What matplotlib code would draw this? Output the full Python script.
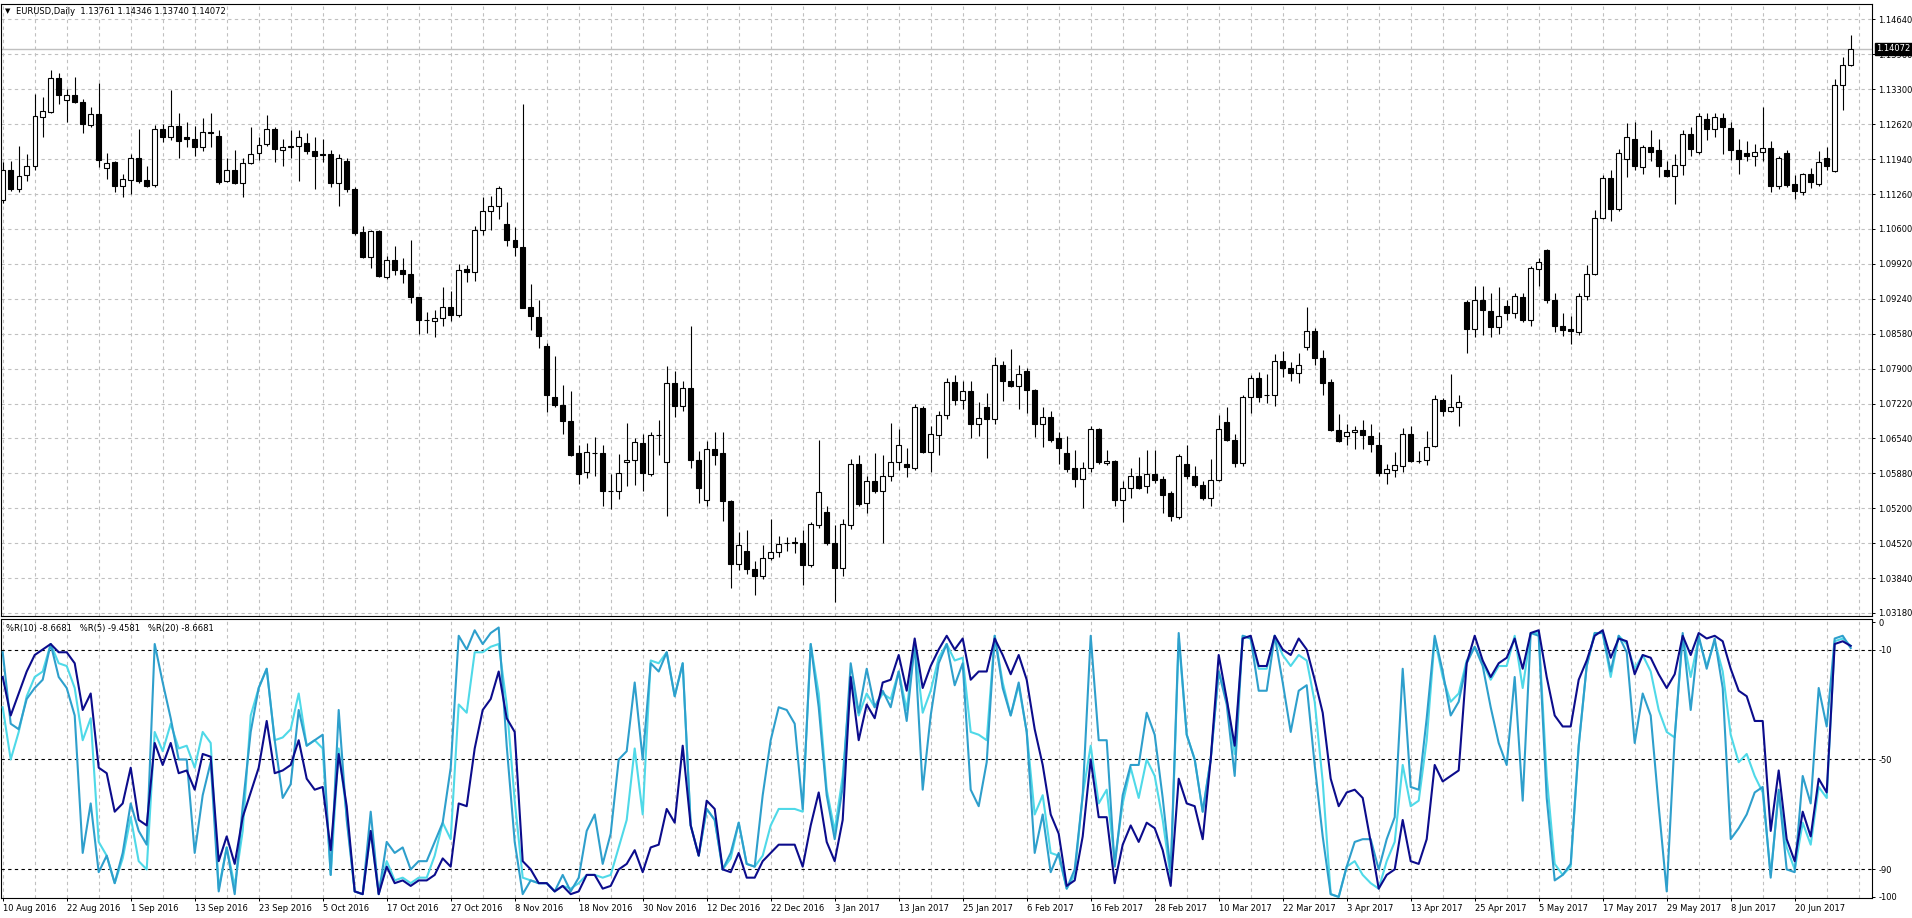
import numpy as np
import matplotlib.pyplot as plt

# EURUSD daily candles, 10 Aug 2016 .. end of Jun 2017
opens = [
    1.1115, 1.1174, 1.1136, 1.1164, 1.1181, 1.1275, 1.1286, 1.1351, 1.1308, 1.1319,
    1.1304, 1.1260, 1.1282, 1.1177, 1.1189, 1.1142, 1.1155, 1.1196, 1.1155, 1.1144,
    1.1253, 1.1237, 1.1259, 1.1237, 1.1234, 1.1218, 1.1246, 1.1240, 1.1152, 1.1174,
    1.1148, 1.1187, 1.1207, 1.1223, 1.1253, 1.1212, 1.1218, 1.1220, 1.1225, 1.1210,
    1.1204, 1.1204, 1.1148, 1.1191, 1.1137, 1.1053, 1.1006, 1.1055, 1.0967, 1.0999,
    1.0980, 1.0973, 1.0928, 1.0883, 1.0881, 1.0888, 1.0908, 1.0893, 1.0982, 1.0976,
    1.1057, 1.1094, 1.1104, 1.1070, 1.1039, 1.1025, 1.0908, 1.0889, 1.0834, 1.0736,
    1.0719, 1.0688, 1.0627, 1.0591, 1.0626, 1.0627, 1.0553, 1.0553, 1.0610, 1.0613,
    1.0647, 1.0587, 1.0662, 1.0610, 1.0762, 1.0717, 1.0752, 1.0614, 1.0536, 1.0635,
    1.0626, 1.0534, 1.0413, 1.0438, 1.0403, 1.0389, 1.0424, 1.0436, 1.0453, 1.0454,
    1.0454, 1.0411, 1.0487, 1.0513, 1.0454, 1.0405, 1.0487, 1.0606, 1.0531, 1.0573,
    1.0553, 1.0582, 1.0610, 1.0606, 1.0598, 1.0713, 1.0629, 1.0662, 1.0700, 1.0764,
    1.0729, 1.0747, 1.0683, 1.0715, 1.0692, 1.0797, 1.0766, 1.0756, 1.0785, 1.0748,
    1.0682, 1.0696, 1.0655, 1.0627, 1.0598, 1.0577, 1.0598, 1.0673, 1.0608, 1.0612,
    1.0536, 1.0559, 1.0582, 1.0563, 1.0586, 1.0576, 1.0549, 1.0503, 1.0606, 1.0582,
    1.0565, 1.0540, 1.0575, 1.0686, 1.0653, 1.0608, 1.0736, 1.0772, 1.0738, 1.0738,
    1.0805, 1.0791, 1.0781, 1.0832, 1.0862, 1.0811, 1.0765, 1.0672, 1.0660, 1.0668,
    1.0672, 1.0660, 1.0643, 1.0588, 1.0594, 1.0602, 1.0664, 1.0612, 1.0614, 1.0641,
    1.0729, 1.0709, 1.0715, 1.0918, 1.0867, 1.0922, 1.0902, 1.0870, 1.0910, 1.0898,
    1.0929, 1.0884, 1.0982, 1.1018, 1.0922, 1.0873, 1.0867, 1.0861, 1.0930, 1.0973,
    1.1081, 1.1158, 1.1099, 1.1195, 1.1234, 1.1179, 1.1218, 1.1212, 1.1173, 1.1162,
    1.1183, 1.1242, 1.1209, 1.1271, 1.1253, 1.1274, 1.1255, 1.1212, 1.1207, 1.1201,
    1.1208, 1.1216, 1.1142, 1.1207, 1.1146, 1.1130, 1.1166, 1.1146, 1.1196, 1.1171,
    1.1337, 1.13761,
]
highs = [
    1.1189, 1.1191, 1.1220, 1.1204, 1.1320, 1.1314, 1.1367, 1.1360, 1.1329, 1.1353,
    1.1311, 1.1296, 1.1341, 1.1207, 1.1191, 1.1166, 1.1204, 1.1252, 1.1181, 1.1261,
    1.1263, 1.1327, 1.1283, 1.1267, 1.1259, 1.1273, 1.1283, 1.1251, 1.1196, 1.1212,
    1.1196, 1.1256, 1.1238, 1.1279, 1.1257, 1.1234, 1.1251, 1.1251, 1.1244, 1.1238,
    1.1234, 1.1212, 1.1205, 1.1197, 1.1140, 1.1066, 1.1058, 1.1058, 1.1008, 1.1026,
    1.1004, 1.1039, 1.0928, 1.0900, 1.0903, 1.0947, 1.0940, 1.0992, 1.0990, 1.1066,
    1.1122, 1.1123, 1.1142, 1.1111, 1.1064, 1.1300, 1.0953, 1.0922, 1.0840, 1.0815,
    1.0758, 1.0746, 1.0643, 1.0647, 1.0657, 1.0643, 1.0586, 1.0625, 1.0684, 1.0655,
    1.0664, 1.0668, 1.0690, 1.0795, 1.0785, 1.0766, 1.0873, 1.0631, 1.0651, 1.0668,
    1.0668, 1.0536, 1.0475, 1.0479, 1.0419, 1.0450, 1.0499, 1.0467, 1.0465, 1.0465,
    1.0479, 1.0493, 1.0653, 1.0524, 1.0487, 1.0499, 1.0616, 1.0623, 1.0582, 1.0627,
    1.0623, 1.0684, 1.0673, 1.0637, 1.0721, 1.0717, 1.0680, 1.0709, 1.0772, 1.0777,
    1.0766, 1.0766, 1.0725, 1.0742, 1.0813, 1.0805, 1.0828, 1.0797, 1.0791, 1.0750,
    1.0715, 1.0709, 1.0668, 1.0660, 1.0632, 1.0610, 1.0680, 1.0676, 1.0632, 1.0614,
    1.0573, 1.0598, 1.0619, 1.0632, 1.0632, 1.0583, 1.0553, 1.0625, 1.0643, 1.0602,
    1.0573, 1.0616, 1.0701, 1.0715, 1.0664, 1.0739, 1.0777, 1.0783, 1.0779, 1.0818,
    1.0824, 1.0803, 1.0820, 1.0908, 1.0869, 1.0826, 1.0770, 1.0703, 1.0682, 1.0680,
    1.0690, 1.0682, 1.0668, 1.0606, 1.0629, 1.0676, 1.0680, 1.0631, 1.0669, 1.0738,
    1.0733, 1.0779, 1.0738, 1.0922, 1.0949, 1.0949, 1.0935, 1.0947, 1.0922, 1.0935,
    1.0936, 1.0988, 1.1004, 1.1021, 1.0935, 1.0898, 1.0892, 1.0935, 1.0990, 1.1097,
    1.1163, 1.1173, 1.1214, 1.1265, 1.1267, 1.1222, 1.1251, 1.1234, 1.1191, 1.1204,
    1.1251, 1.1256, 1.1283, 1.1283, 1.1283, 1.1283, 1.1267, 1.1234, 1.1230, 1.1224,
    1.1296, 1.1230, 1.1201, 1.1212, 1.1163, 1.1168, 1.1177, 1.1210, 1.1218, 1.1349,
    1.1392, 1.14346,
]
lows = [
    1.1109, 1.1132, 1.1130, 1.1152, 1.1174, 1.1238, 1.1283, 1.1300, 1.1267, 1.1302,
    1.1244, 1.1256, 1.1179, 1.1156, 1.1130, 1.1122, 1.1127, 1.1148, 1.1140, 1.1140,
    1.1228, 1.1232, 1.1197, 1.1218, 1.1200, 1.1210, 1.1218, 1.1146, 1.1150, 1.1146,
    1.1122, 1.1185, 1.1193, 1.1220, 1.1189, 1.1181, 1.1197, 1.1152, 1.1204, 1.1136,
    1.1189, 1.1140, 1.1103, 1.1130, 1.1048, 1.1003, 1.0984, 1.0967, 1.0963, 1.0971,
    1.0955, 1.0916, 1.0857, 1.0859, 1.0851, 1.0873, 1.0881, 1.0889, 1.0958, 1.0959,
    1.1048, 1.1058, 1.1078, 1.1026, 1.1008, 1.0906, 1.0865, 1.0829, 1.0706, 1.0715,
    1.0664, 1.0621, 1.0568, 1.0579, 1.0583, 1.0524, 1.0518, 1.0538, 1.0563, 1.0565,
    1.0553, 1.0583, 1.0624, 1.0505, 1.0696, 1.0709, 1.0598, 1.0530, 1.0524, 1.0604,
    1.0495, 1.0366, 1.0401, 1.0394, 1.0352, 1.0383, 1.0421, 1.0426, 1.0438, 1.0434,
    1.0372, 1.0407, 1.0483, 1.0450, 1.0339, 1.0389, 1.0481, 1.0524, 1.0512, 1.0550,
    1.0454, 1.0572, 1.0594, 1.0580, 1.0594, 1.0627, 1.0590, 1.0624, 1.0692, 1.0719,
    1.0711, 1.0655, 1.0660, 1.0618, 1.0682, 1.0728, 1.0754, 1.0711, 1.0705, 1.0657,
    1.0639, 1.0649, 1.0606, 1.0590, 1.0561, 1.0520, 1.0591, 1.0606, 1.0604, 1.0524,
    1.0493, 1.0540, 1.0557, 1.0549, 1.0569, 1.0512, 1.0495, 1.0499, 1.0576, 1.0561,
    1.0536, 1.0524, 1.0572, 1.0651, 1.0600, 1.0602, 1.0705, 1.0725, 1.0723, 1.0717,
    1.0774, 1.0766, 1.0762, 1.0826, 1.0797, 1.0739, 1.0670, 1.0649, 1.0643, 1.0635,
    1.0635, 1.0629, 1.0582, 1.0568, 1.0580, 1.0590, 1.0609, 1.0608, 1.0604, 1.0639,
    1.0698, 1.0707, 1.0680, 1.0820, 1.0851, 1.0854, 1.0851, 1.0857, 1.0884, 1.0887,
    1.0879, 1.0873, 1.0949, 1.0916, 1.0861, 1.0852, 1.0838, 1.0855, 1.0922, 1.0971,
    1.1078, 1.1074, 1.1095, 1.1160, 1.1173, 1.1166, 1.1191, 1.1160, 1.1160, 1.1107,
    1.1163, 1.1201, 1.1205, 1.1232, 1.1238, 1.1204, 1.1193, 1.1166, 1.1191, 1.1182,
    1.1191, 1.1130, 1.1136, 1.1141, 1.1118, 1.1125, 1.1138, 1.1142, 1.1173, 1.1170,
    1.1289, 1.13740,
]
closes = [
    1.1173, 1.1136, 1.1162, 1.1182, 1.1278, 1.1288, 1.1351, 1.1319, 1.1319, 1.1304,
    1.1263, 1.1282, 1.1193, 1.1187, 1.1142, 1.1156, 1.1196, 1.1152, 1.1142, 1.1253,
    1.1238, 1.1259, 1.1230, 1.1233, 1.1218, 1.1246, 1.1244, 1.1150, 1.1173, 1.1148,
    1.1187, 1.1205, 1.1222, 1.1253, 1.1214, 1.1218, 1.1220, 1.1238, 1.1210, 1.1201,
    1.1203, 1.1148, 1.1197, 1.1136, 1.1051, 1.1005, 1.1055, 1.0969, 1.1000, 1.0980,
    1.0973, 1.0928, 1.0883, 1.0883, 1.0888, 1.0908, 1.0893, 1.0981, 1.0976, 1.1057,
    1.1094, 1.1103, 1.1139, 1.1039, 1.1025, 1.0907, 1.0891, 1.0852, 1.0738, 1.0719,
    1.0688, 1.0624, 1.0587, 1.0628, 1.0626, 1.0553, 1.0553, 1.0588, 1.0614, 1.0649,
    1.0588, 1.0661, 1.0662, 1.0762, 1.0717, 1.0752, 1.0614, 1.0559, 1.0635, 1.0624,
    1.0534, 1.0413, 1.0450, 1.0403, 1.0389, 1.0424, 1.0435, 1.0452, 1.0453, 1.0455,
    1.0411, 1.0490, 1.0551, 1.0454, 1.0405, 1.0490, 1.0606, 1.0528, 1.0573, 1.0553,
    1.0582, 1.0610, 1.0643, 1.0600, 1.0715, 1.0629, 1.0664, 1.0700, 1.0764, 1.0729,
    1.0747, 1.0683, 1.0695, 1.0692, 1.0797, 1.0766, 1.0756, 1.0780, 1.0748, 1.0682,
    1.0696, 1.0653, 1.0637, 1.0596, 1.0577, 1.0598, 1.0673, 1.0610, 1.0612, 1.0536,
    1.0559, 1.0582, 1.0559, 1.0586, 1.0575, 1.0546, 1.0505, 1.0621, 1.0582, 1.0565,
    1.0540, 1.0575, 1.0673, 1.0653, 1.0608, 1.0735, 1.0772, 1.0736, 1.0738, 1.0805,
    1.0791, 1.0782, 1.0797, 1.0862, 1.0811, 1.0762, 1.0672, 1.0650, 1.0668, 1.0672,
    1.0662, 1.0645, 1.0588, 1.0596, 1.0604, 1.0664, 1.0612, 1.0612, 1.0639, 1.0731,
    1.0709, 1.0715, 1.0725, 1.0867, 1.0922, 1.0903, 1.0870, 1.0892, 1.0898, 1.0930,
    1.0884, 1.0984, 1.0996, 1.0922, 1.0873, 1.0865, 1.0862, 1.0930, 1.0973, 1.1081,
    1.1158, 1.1099, 1.1207, 1.1237, 1.1182, 1.1218, 1.1208, 1.1182, 1.1162, 1.1183,
    1.1242, 1.1214, 1.1278, 1.1253, 1.1275, 1.1256, 1.1212, 1.1195, 1.1201, 1.1209,
    1.1216, 1.1142, 1.1197, 1.1145, 1.1133, 1.1166, 1.1150, 1.1189, 1.1181, 1.1337,
    1.1376, 1.14072,
]

# Williams %R lines
wpr10 = [
    -31, -50, -40, -27, -20, -18, -8, -15, -16, -24,
    -43, -35, -80, -85, -95, -86, -71, -87, -90, -40,
    -47, -37, -46, -45, -53, -40, -44, -97, -82, -96,
    -76, -34, -24, -17, -43, -42, -39, -26, -45, -43,
    -46, -92, -46, -70, -98, -99, -76, -99, -87, -94,
    -93, -95, -93, -93, -85, -73, -79, -30, -33, -11,
    -11, -9, -8, -30, -65, -93, -94, -95, -95, -98,
    -96, -97, -95, -92, -92, -93, -92, -82, -72, -46,
    -70, -14, -15, -11, -27, -15, -74, -85, -68, -72,
    -90, -86, -73, -88, -89, -85, -74, -68, -68, -68,
    -69, -8, -26, -61, -76, -56, -20, -34, -26, -31,
    -26, -28, -18, -32, -8, -33, -25, -13, -8, -14,
    -13, -40, -41, -43, -5, -22, -34, -23, -40, -70,
    -63, -84, -85, -97, -92, -63, -45, -66, -61, -87,
    -66, -53, -64, -50, -56, -72, -93, -6, -41, -50,
    -69, -50, -18, -28, -48, -5, -6, -17, -17, -5,
    -12, -16, -12, -14, -29, -58, -99, -100, -89, -87,
    -92, -95, -97, -87, -80, -52, -67, -65, -43, -6,
    -20, -29, -26, -14, -9, -15, -21, -16, -16, -5,
    -24, -4, -4, -56, -88, -92, -89, -45, -16, -4,
    -4, -20, -5, -8, -17, -12, -18, -32, -40, -42,
    -5, -20, -6, -16, -7, -18, -41, -51, -48, -56,
    -62, -92, -62, -82, -90, -73, -81, -60, -64, -7,
    -6, -8.6681,
]
wpr5 = [
    -11, -37, -39, -28, -24, -21, -8, -20, -24, -34,
    -84, -66, -91, -85, -95, -84, -66, -76, -81, -8,
    -22, -35, -50, -50, -84, -63, -51, -98, -82, -99,
    -67, -40, -24, -17, -43, -64, -59, -32, -45, -43,
    -41, -92, -32, -72, -98, -99, -69, -99, -80, -84,
    -82, -90, -87, -87, -80, -73, -53, -5, -10, -3,
    -8, -4, -2, -45, -80, -99, -94, -95, -95, -98,
    -92, -98, -93, -76, -70, -88, -77, -50, -47, -22,
    -50, -15, -18, -11, -27, -15, -74, -85, -68, -72,
    -90, -84, -73, -88, -89, -63, -43, -31, -32, -37,
    -68, -8, -31, -63, -79, -60, -15, -33, -17, -31,
    -25, -31, -18, -36, -8, -61, -34, -15, -8, -23,
    -15, -61, -67, -51, -5, -24, -34, -22, -40, -84,
    -70, -91, -84, -97, -90, -63, -5, -43, -43, -89,
    -63, -52, -52, -33, -41, -64, -91, -4, -41, -50,
    -69, -50, -18, -30, -56, -5, -6, -25, -25, -5,
    -22, -40, -25, -23, -52, -78, -99, -100, -89, -80,
    -79, -79, -90, -79, -71, -17, -60, -61, -35, -5,
    -18, -34, -29, -15, -9, -16, -31, -44, -52, -20,
    -65, -4, -5, -64, -94, -92, -88, -45, -16, -4,
    -4, -18, -5, -11, -44, -26, -34, -67, -98, -42,
    -4, -32, -5, -17, -6, -24, -79, -75, -70, -62,
    -60, -93, -61, -90, -91, -56, -66, -24, -38, -6,
    -5, -9.4581,
]
wpr20 = [
    -20, -34, -26, -18, -12, -10, -8, -11, -11, -15,
    -32, -26, -53, -55, -69, -66, -53, -72, -74, -44,
    -52, -44, -55, -54, -61, -48, -49, -87, -78, -88,
    -71, -62, -53, -36, -55, -54, -52, -43, -57, -61,
    -60, -83, -48, -67, -98, -99, -76, -99, -89, -95,
    -94, -96, -94, -94, -92, -86, -89, -66, -67, -46,
    -32, -28, -18, -35, -40, -87, -90, -95, -95, -98,
    -96, -99, -98, -92, -92, -97, -96, -90, -88, -83,
    -91, -82, -81, -68, -73, -45, -74, -85, -65, -68,
    -90, -91, -84, -93, -93, -87, -84, -81, -81, -81,
    -89, -74, -62, -80, -87, -72, -20, -43, -30, -35,
    -22, -21, -12, -25, -6, -24, -16, -10, -5, -10,
    -6, -21, -18, -18, -6, -12, -19, -12, -21, -39,
    -52, -70, -77, -96, -94, -78, -50, -71, -71, -95,
    -81, -74, -80, -73, -75, -83, -96, -57, -66, -67,
    -79, -50, -12, -28, -45, -6, -5, -16, -16, -5,
    -10, -12, -6, -10, -21, -33, -57, -67, -62, -61,
    -64, -80, -97, -92, -90, -72, -87, -88, -79, -52,
    -58, -56, -54, -15, -5, -14, -20, -15, -13, -6,
    -17, -4, -3, -20, -34, -38, -38, -21, -14, -5,
    -3, -13, -6, -7, -19, -12, -13, -19, -24, -19,
    -5, -12, -4, -6, -5, -7, -17, -25, -27, -36,
    -36, -76, -54, -79, -87, -69, -78, -57, -62, -8,
    -7, -8.6681,
]

date_labels = [
    "10 Aug 2016", "22 Aug 2016", "1 Sep 2016", "13 Sep 2016", "23 Sep 2016",
    "5 Oct 2016", "17 Oct 2016", "27 Oct 2016", "8 Nov 2016", "18 Nov 2016",
    "30 Nov 2016", "12 Dec 2016", "22 Dec 2016", "3 Jan 2017", "13 Jan 2017",
    "25 Jan 2017", "6 Feb 2017", "16 Feb 2017", "28 Feb 2017", "10 Mar 2017",
    "22 Mar 2017", "3 Apr 2017", "13 Apr 2017", "25 Apr 2017", "5 May 2017",
    "17 May 2017", "29 May 2017", "8 Jun 2017", "20 Jun 2017",
]
price_labels = [
    "1.03180", "1.03840", "1.04520", "1.05200", "1.05880", "1.06540",
    "1.07220", "1.07900", "1.08580", "1.09240", "1.09920", "1.10600",
    "1.11260", "1.11940", "1.12620", "1.13300", "1.13960", "1.14640",
]
wpr_labels = ["0", "-10", "-50", "-90", "-100"]
wpr_ticks = [0, -10, -50, -90, -100]
levels = [-10, -50, -90]
last_price = 1.14072
header = "EURUSD,Daily  1.13761 1.14346 1.13740 1.14072"
wpr_header = "%R(10) -8.6681   %R(5) -9.4581   %R(20) -8.6681"

W, H = 1912, 918
plt.rcParams['font.family'] = 'DejaVu Sans'
fig = plt.figure(figsize=(W / 100, H / 100), dpi=100)
fig.patch.set_facecolor('white')


def rect(x0, y0, x1, y1):
    return [x0 / W, 1 - y1 / H, (x1 - x0) / W, (y1 - y0) / H]


ax1 = fig.add_axes(rect(1, 4, 1872, 616))
ax2 = fig.add_axes(rect(1, 619, 1872, 898))

o = np.array(opens)
h = np.array(highs)
l = np.array(lows)
c = np.array(closes)
n = len(c)
x = np.arange(n)
xlim = ((1 - 2.7) / 8, (1872 - 2.7) / 8)

grid_kw = dict(color='#c0c0c0', lw=0.8, ls=(0, (3, 3)), zorder=0)
price_ticks = np.linspace(1.03180, 1.14640, len(price_labels))
ppx = (1.14640 - 1.03180) / 593.5

# price panel
for xv in np.arange(0, n + 4, 4):
    ax1.axvline(xv, **grid_kw)
    ax2.axvline(xv, **grid_kw)
for yv in price_ticks:
    ax1.axhline(yv, **grid_kw)
ax1.axhline(last_price, color='#c0c0c0', lw=1.0, zorder=1)

up = c >= o
body_lo = np.minimum(o, c)
body_h = np.maximum(np.abs(c - o), 0.00003)
ax1.vlines(x, l, h, color='black', lw=0.8, zorder=3)
ax1.bar(x[up], body_h[up], bottom=body_lo[up], width=0.55,
        color='white', edgecolor='black', lw=0.8, zorder=4)
ax1.bar(x[~up], body_h[~up], bottom=body_lo[~up], width=0.55,
        color='black', edgecolor='black', lw=0.8, zorder=4)

ax1.set_xlim(*xlim)
ax1.set_ylim(1.03180 - 3 * ppx, 1.14640 + 15.5 * ppx)
ax1.set_xticks([])
ax1.yaxis.tick_right()
ax1.set_yticks(price_ticks)
ax1.set_yticklabels(price_labels)
ax1.tick_params(axis='y', direction='out', length=2.5, width=0.7, pad=2, labelsize=6)
ax1.annotate(f"{last_price:.5f}", xy=(1, last_price), xycoords=('axes fraction', 'data'),
             xytext=(3.2, 0), textcoords='offset points', ha='left', va='center',
             fontsize=6, color='white', zorder=10, annotation_clip=False,
             bbox=dict(boxstyle='square,pad=0.15', fc='black', ec='black'))

# %R panel
for lv in levels:
    ax2.axhline(lv, color='black', lw=0.8, ls=(0, (3, 3)), zorder=1)
ax2.plot(x, wpr10, color='#4fd9e8', lw=1.5, zorder=3)
ax2.plot(x, wpr5, color='#2e9fcc', lw=1.5, zorder=4)
ax2.plot(x, wpr20, color='#0c0c8c', lw=1.5, zorder=5)

ax2.set_xlim(*xlim)
ax2.set_ylim(-100.4, 1.1)
ax2.yaxis.tick_right()
ax2.set_yticks(wpr_ticks)
ax2.set_yticklabels(wpr_labels)
ax2.tick_params(axis='y', direction='out', length=2.5, width=0.7, pad=2, labelsize=6)
ax2.set_xticks(np.arange(0, 8 * len(date_labels), 8))
ax2.set_xticklabels(date_labels)
ax2.tick_params(axis='x', direction='out', length=2.5, width=0.7, pad=1.5, labelsize=6)
for lbl in ax2.get_xticklabels():
    lbl.set_horizontalalignment('left')

for ax in (ax1, ax2):
    ax.set_facecolor('white')
    for sp in ax.spines.values():
        sp.set_color('black')
        sp.set_linewidth(0.8)

fig.text(5 / W, 1 - 11 / H, "\u25bc", fontsize=5, va='center', ha='left')
fig.text(16 / W, 1 - 11 / H, header, fontsize=6, va='center', ha='left')
fig.text(6 / W, 1 - 629 / H, wpr_header, fontsize=6, va='center', ha='left')

fig.savefig('out.png', dpi=100, facecolor='white')
